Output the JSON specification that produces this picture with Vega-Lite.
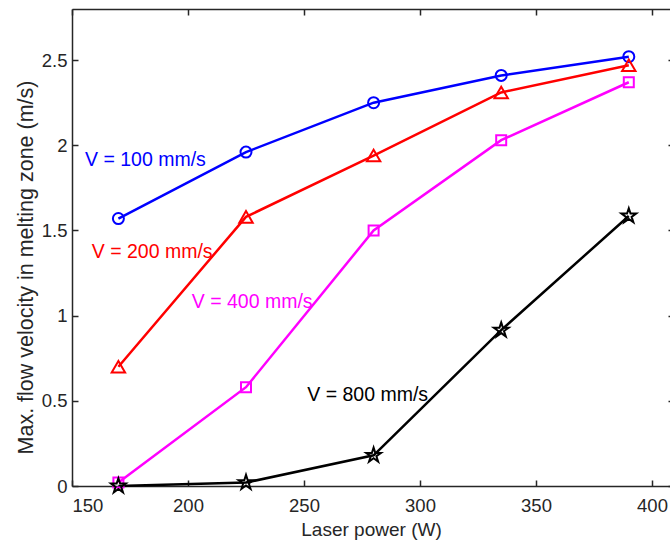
{
  "$schema": "https://vega.github.io/schema/vega-lite/v6.json",
  "width": 598,
  "height": 477,
  "autosize": {"type": "none"},
  "padding": {"left": 72, "top": 9, "right": 0, "bottom": 56},
  "background": "white",
  "config": {
    "font": "Liberation Sans",
    "view": {"stroke": null},
    "axis": {
      "grid": false,
      "domainColor": "#262626",
      "domainWidth": 1.5,
      "tickColor": "#262626",
      "tickWidth": 1.5,
      "tickSize": -6,
      "labelColor": "#262626",
      "labelFontSize": 18.5,
      "titleColor": "#262626",
      "titleFontSize": 19,
      "titleFontWeight": "normal"
    }
  },
  "datasets": {
    "pts": [
      {"series": "V = 100 mm/s", "power": 170, "velocity": 1.57},
      {"series": "V = 100 mm/s", "power": 225, "velocity": 1.96},
      {"series": "V = 100 mm/s", "power": 280, "velocity": 2.25},
      {"series": "V = 100 mm/s", "power": 335, "velocity": 2.41},
      {"series": "V = 100 mm/s", "power": 390, "velocity": 2.52},
      {"series": "V = 200 mm/s", "power": 170, "velocity": 0.70},
      {"series": "V = 200 mm/s", "power": 225, "velocity": 1.58},
      {"series": "V = 200 mm/s", "power": 280, "velocity": 1.94},
      {"series": "V = 200 mm/s", "power": 335, "velocity": 2.31},
      {"series": "V = 200 mm/s", "power": 390, "velocity": 2.47},
      {"series": "V = 400 mm/s", "power": 170, "velocity": 0.02},
      {"series": "V = 400 mm/s", "power": 225, "velocity": 0.58},
      {"series": "V = 400 mm/s", "power": 280, "velocity": 1.50},
      {"series": "V = 400 mm/s", "power": 335, "velocity": 2.03},
      {"series": "V = 400 mm/s", "power": 390, "velocity": 2.37},
      {"series": "V = 800 mm/s", "power": 170, "velocity": 0.0},
      {"series": "V = 800 mm/s", "power": 225, "velocity": 0.02},
      {"series": "V = 800 mm/s", "power": 280, "velocity": 0.18},
      {"series": "V = 800 mm/s", "power": 335, "velocity": 0.915},
      {"series": "V = 800 mm/s", "power": 390, "velocity": 1.585}
    ],
    "labels": [
      {"series": "V = 100 mm/s", "power": 155.6, "velocity": 1.913},
      {"series": "V = 200 mm/s", "power": 158.5, "velocity": 1.376},
      {"series": "V = 400 mm/s", "power": 201.6, "velocity": 1.083},
      {"series": "V = 800 mm/s", "power": 251.4, "velocity": 0.534}
    ]
  },
  "layer": [
    {
      "data": {"name": "pts"},
      "mark": {"type": "line", "strokeWidth": 2.5},
      "encoding": {
        "x": {"field": "power", "type": "quantitative", "scale": {"domain": [150, 407.76], "nice": false}, "axis": {"title": "Laser power (W)", "values": [150, 200, 250, 300, 350, 400], "labelPadding": 16, "titlePadding": 6}},
        "y": {"field": "velocity", "type": "quantitative", "scale": {"domain": [0, 2.8], "nice": false}, "axis": {"title": "Max. flow velocity in melting zone (m/s)", "values": [0, 0.5, 1, 1.5, 2, 2.5], "format": "~f", "labelPadding": 11, "titleFontSize": 21.5, "titleBaseline": "middle", "titleX": -46, "titleY": 258, "titleAngle": 270}},
        "color": {"field": "series", "type": "nominal", "scale": {"domain": ["V = 100 mm/s", "V = 200 mm/s", "V = 400 mm/s", "V = 800 mm/s"], "range": ["#0000ff", "#ff0000", "#ff00ff", "#000000"]}, "legend": null}
      }
    },
    {
      "data": {"name": "pts"},
      "mark": {"type": "point", "filled": false, "strokeWidth": 2, "opacity": 1},
      "encoding": {
        "x": {"field": "power", "type": "quantitative", "axis": null},
        "y": {"field": "velocity", "type": "quantitative", "axis": null},
        "color": {"field": "series", "type": "nominal", "legend": null},
        "shape": {"field": "series", "type": "nominal", "scale": {"domain": ["V = 100 mm/s", "V = 200 mm/s", "V = 400 mm/s", "V = 800 mm/s"], "range": ["circle", "triangle-up", "square", "M0,-1L0.2245,-0.309L0.9511,-0.309L0.3633,0.118L0.5878,0.809L0,0.382L-0.5878,0.809L-0.3633,0.118L-0.9511,-0.309L-0.2245,-0.309Z"]}, "legend": null},
        "size": {"field": "series", "type": "nominal", "scale": {"type": "ordinal", "domain": ["V = 100 mm/s", "V = 200 mm/s", "V = 400 mm/s", "V = 800 mm/s"], "range": [121, 180, 100, 240]}, "legend": null}
      }
    },
    {
      "data": {"name": "labels"},
      "mark": {"type": "text", "align": "left", "baseline": "middle", "fontSize": 19.5},
      "encoding": {
        "x": {"field": "power", "type": "quantitative", "axis": null},
        "y": {"field": "velocity", "type": "quantitative", "axis": null},
        "text": {"field": "series"},
        "color": {"field": "series", "type": "nominal", "legend": null}
      }
    },
    {
      "data": {"name": "pts"},
      "mark": {"type": "point", "opacity": 0},
      "encoding": {
        "x": {"field": "power", "type": "quantitative", "axis": {"orient": "top", "labels": false, "title": null, "values": [150, 200, 250, 300, 350, 400]}},
        "y": {"field": "velocity", "type": "quantitative", "axis": {"orient": "right", "labels": false, "title": null, "domain": false, "tickSize": -2, "values": [0, 0.5, 1, 1.5, 2, 2.5]}}
      }
    }
  ],
  "resolve": {"axis": {"x": "independent", "y": "independent"}}
}
